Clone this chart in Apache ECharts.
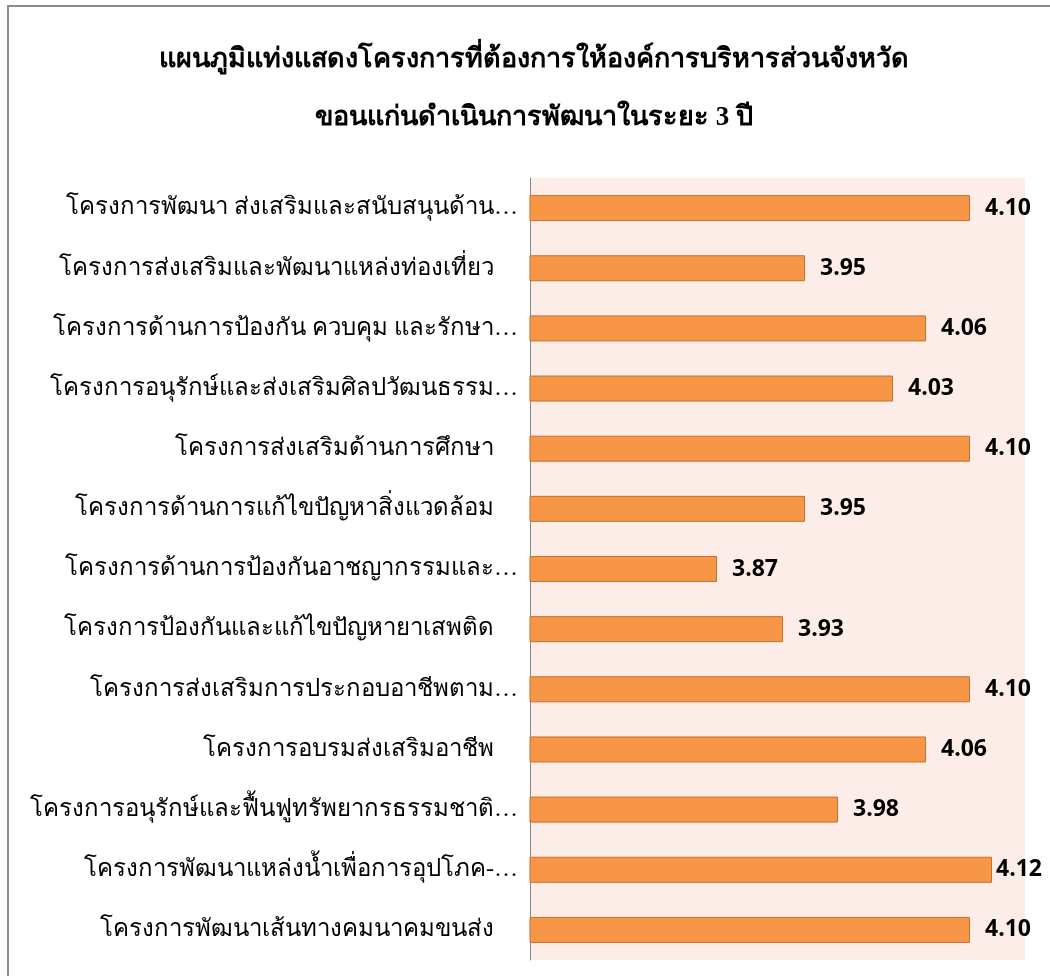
<!DOCTYPE html>
<html>
<head>
<meta charset="utf-8">
<script src="https://cdn.jsdelivr.net/npm/echarts@6/dist/echarts.min.js"></script>
<style>
  html, body { margin: 0; padding: 0; background: #fff; }
  #wrap { position: absolute; left: 0; top: 0; width: 1050px; height: 976px; }
  #frame { position: absolute; left: 7px; top: 5px; width: 1060px; height: 990px;
           border: 2px solid #8c8c8c; box-sizing: border-box; }
  #chart { position: absolute; left: 0; top: 0; width: 1050px; height: 976px; }
</style>
</head>
<body>
<div id="wrap">
  <div id="frame"></div>
  <div id="chart"></div>
</div>
<script>
// ชื่อโครงการ (เรียงจากบนลงล่าง)
var projects = [
  'โครงการพัฒนา ส่งเสริมและสนับสนุนด้าน…',
  'โครงการส่งเสริมและพัฒนาแหล่งท่องเที่ยว    ',
  'โครงการด้านการป้องกัน ควบคุม และรักษา…',
  'โครงการอนุรักษ์และส่งเสริมศิลปวัฒนธรรม…',
  'โครงการส่งเสริมด้านการศึกษา    ',
  'โครงการด้านการแก้ไขปัญหาสิ่งแวดล้อม    ',
  'โครงการด้านการป้องกันอาชญากรรมและ…',
  'โครงการป้องกันและแก้ไขปัญหายาเสพติด    ',
  'โครงการส่งเสริมการประกอบอาชีพตาม…',
  'โครงการอบรมส่งเสริมอาชีพ    ',
  'โครงการอนุรักษ์และฟื้นฟูทรัพยากรธรรมชาติ…',
  'โครงการพัฒนาแหล่งน้ำเพื่อการอุปโภค-…',
  'โครงการพัฒนาเส้นทางคมนาคมขนส่ง    '
];
// ค่าเฉลี่ย
var scores = [4.10, 3.95, 4.06, 4.03, 4.10, 3.95, 3.87, 3.93, 4.10, 4.06, 3.98, 4.12, 4.10];

var titleLines = [
  'แผนภูมิแท่งแสดงโครงการที่ต้องการให้องค์การบริหารส่วนจังหวัด',
  'ขอนแก่นดำเนินการพัฒนาในระยะ 3 ปี'
];

var xMin = 3.7, xMax = 4.15;

var chart = echarts.init(document.getElementById('chart'), null, { renderer: 'canvas' });

var option = {
  animation: false,
  title: {
    text: titleLines.join('\n'),
    left: 529,
    top: 26,
    textAlign: 'center',
    textStyle: {
      fontFamily: 'serif',
      fontSize: 27,
      fontWeight: 'bold',
      color: '#000',
      lineHeight: 58
    }
  },
  grid: {
    left: 530,
    right: 25,
    top: 178,
    bottom: 16,
    show: true,
    backgroundColor: '#fcede8',
    borderWidth: 0
  },
  xAxis: {
    type: 'value',
    min: xMin,
    max: xMax,
    show: false,
    splitLine: { show: false }
  },
  yAxis: {
    type: 'category',
    data: projects,
    inverse: true,
    axisLine: { show: true, lineStyle: { color: '#868686', width: 1 } },
    axisTick: { show: false },
    axisLabel: {
      fontFamily: 'serif',
      fontSize: 24,
      color: '#000',
      margin: 12
    }
  },
  series: [{
    type: 'bar',
    barWidth: 26,
    data: scores.map(function (v) {
      return {
        value: v,
        label: { distance: v >= 4.12 ? 4 : 15 }
      };
    }),
    itemStyle: {
      color: '#f79646',
      borderColor: '#c8702e',
      borderWidth: 1
    },
    label: {
      show: true,
      position: 'right',
      formatter: function (p) { return p.value.toFixed(2); },
      fontFamily: 'Open Sans',
      fontWeight: 'bold',
      fontSize: 23,
      color: '#000'
    }
  }]
};

chart.setOption(option);
</script>
</body>
</html>
